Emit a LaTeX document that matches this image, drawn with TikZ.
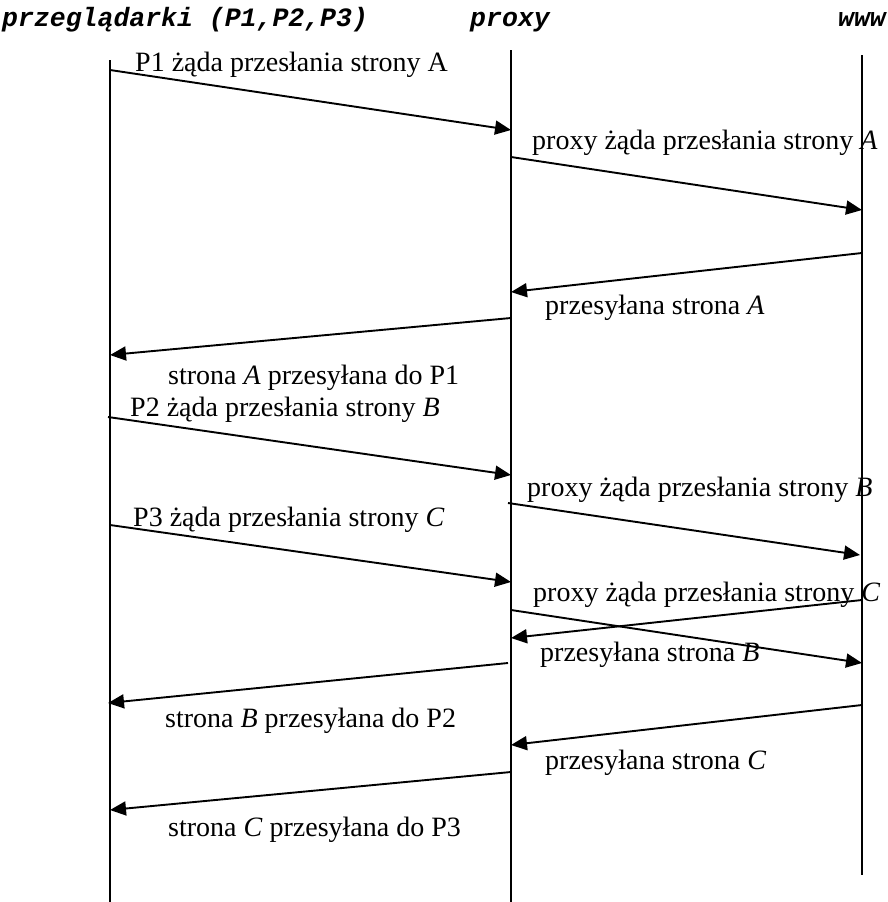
\documentclass[tikz,border=0pt]{standalone}
\usepackage{fontspec}
\setmainfont{Liberation Serif}
\newfontfamily\hdrfont{Liberation Mono}
\usetikzlibrary{arrows.meta}
\begin{document}
\begin{tikzpicture}[x=1pt,y=-1pt,
  lifeline/.style={line width=1.6pt},
  msg/.style={line width=1.9pt,-{Triangle[length=16pt,width=14pt]}},
  lbl/.style={anchor=base west,inner sep=0pt,font=\fontsize{28}{30}\selectfont},
  hdr/.style={inner sep=0pt,font=\hdrfont\bfseries\itshape\fontsize{26.5}{28}\selectfont}]
\useasboundingbox (0,0) rectangle (888,902);
% headers
\node[hdr,anchor=base west] (hb) at (2,26) {przeglądarki (P1,P2,P3)};
\node[hdr,anchor=base west] (hp) at (470,26) {proxy};
\node[hdr,anchor=base east] (hw) at (886,26) {www};
% lifelines
\coordinate (Lt) at (110,60); \coordinate (Lb) at (110,902);
\coordinate (Mt) at (511,50); \coordinate (Mb) at (511,902);
\coordinate (Rt) at (862,55); \coordinate (Rb) at (862,875);
\draw[lifeline] (Lt) -- (Lb);
\draw[lifeline] (Mt) -- (Mb);
\draw[lifeline] (Rt) -- (Rb);
% message end points
\coordinate (a1) at (110,70);  \coordinate (b1) at (511,130);
\coordinate (a2) at (511,157); \coordinate (b2) at (862,210);
\coordinate (a3) at (862,253); \coordinate (b3) at (511,292);
\coordinate (a4) at (511,318); \coordinate (b4) at (110,355);
\coordinate (a5) at (108,417); \coordinate (b5) at (511,475);
\coordinate (a6) at (508,503); \coordinate (b6) at (860,555);
\coordinate (a7) at (110,525); \coordinate (b7) at (511,582);
\coordinate (a8) at (511,610); \coordinate (b8) at (862,663);
\coordinate (a9) at (862,600); \coordinate (b9) at (511,638);
\coordinate (a10) at (508,663); \coordinate (b10) at (108,703);
\coordinate (a11) at (862,705); \coordinate (b11) at (511,745);
\coordinate (a12) at (511,772); \coordinate (b12) at (110,810);
\foreach \i in {1,...,12}{\draw[msg] (a\i) -- (b\i);}
% labels
\node[lbl] (l1) at (135,71) {P1 żąda przesłania strony A};
\node[lbl] (l2) at (532,149) {proxy żąda przesłania strony \textit{A}};
\node[lbl] (l3) at (545,314) {przesyłana strona \textit{A}};
\node[lbl] (l4) at (168,384) {strona \textit{A} przesyłana do P1};
\node[lbl] (l5) at (130,416) {P2 żąda przesłania strony \textit{B}};
\node[lbl] (l6) at (527,496) {proxy żąda przesłania strony \textit{B}};
\node[lbl] (l7) at (133,526) {P3 żąda przesłania strony \textit{C}};
\node[lbl] (l8) at (533,601) {proxy żąda przesłania strony \textit{C}};
\node[lbl] (l9) at (540,661) {przesyłana strona \textit{B}};
\node[lbl] (l10) at (165,727) {strona \textit{B} przesyłana do P2};
\node[lbl] (l11) at (545,769) {przesyłana strona \textit{C}};
\node[lbl] (l12) at (168,836) {strona \textit{C} przesyłana do P3};
\end{tikzpicture}
\end{document}
